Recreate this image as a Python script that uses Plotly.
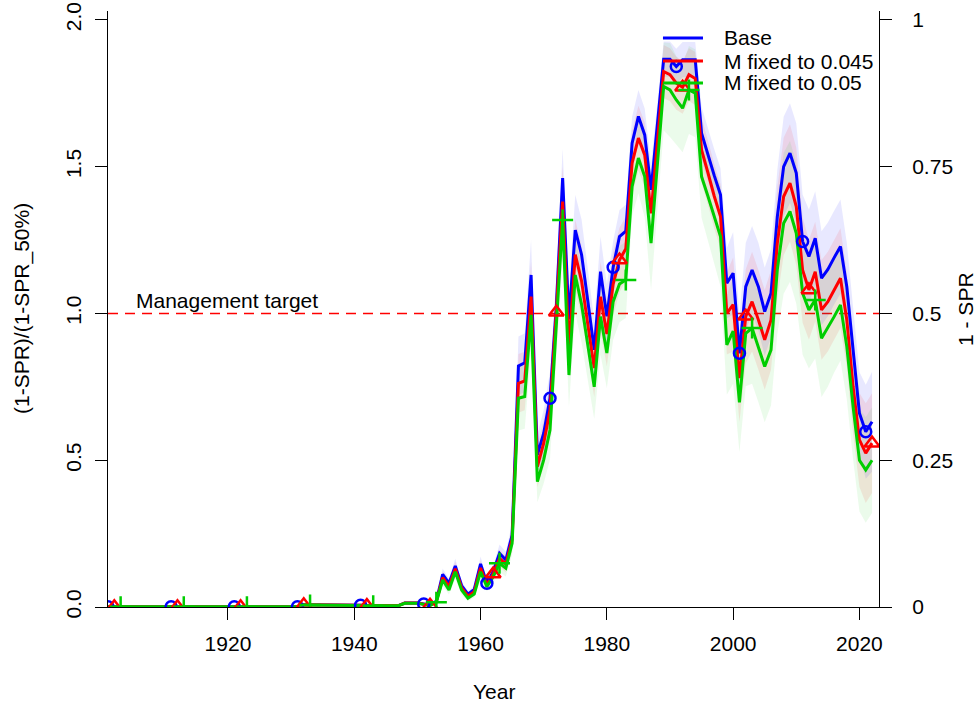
import plotly.graph_objects as go

# ---------------- data ----------------
years = list(range(1901, 2023))

pre_1953 = [0.001] * 31 + [0.008] * 7 + [0.006] * 3 + [0.005] * 6 + [0.014] * 3 + [0.010, 0.006]

base_1953 = [0.020, 0.111, 0.081, 0.140, 0.073, 0.044, 0.060, 0.147, 0.081, 0.120,
             0.183, 0.160, 0.245, 0.821, 0.832, 1.131, 0.518, 0.592, 0.711, 1.023,
             1.461, 0.980, 1.284, 1.200, 1.040, 0.876, 1.142, 0.990, 1.157, 1.262,
             1.280, 1.580, 1.671, 1.608, 1.421, 1.650, 1.866, 1.866, 1.841, 1.864,
             1.864, 1.864, 1.614, 1.540, 1.470, 1.404, 1.103, 1.137, 0.864, 1.091,
             1.148, 1.091, 1.006, 1.069, 1.330, 1.500, 1.546, 1.478, 1.245, 1.194,
             1.256, 1.120, 1.150, 1.190, 1.228, 1.091, 0.864, 0.660, 0.597, 0.631]

m045_1953 = [0.018, 0.100, 0.070, 0.130, 0.065, 0.037, 0.052, 0.133, 0.075, 0.112,
             0.166, 0.146, 0.230, 0.762, 0.770, 1.057, 0.478, 0.558, 0.671, 1.004,
             1.381, 0.880, 1.200, 1.110, 0.960, 0.814, 1.057, 0.930, 1.100, 1.182,
             1.220, 1.512, 1.597, 1.540, 1.341, 1.580, 1.824, 1.813, 1.784, 1.770,
             1.813, 1.800, 1.557, 1.480, 1.400, 1.330, 1.000, 1.030, 0.780, 0.990,
             1.040, 0.978, 0.910, 0.978, 1.240, 1.398, 1.444, 1.364, 1.148, 1.080,
             1.142, 1.012, 1.040, 1.080, 1.120, 0.978, 0.750, 0.569, 0.524, 0.558]

m05_1953 = [0.016, 0.092, 0.058, 0.120, 0.058, 0.030, 0.044, 0.120, 0.069, 0.103,
            0.149, 0.132, 0.217, 0.711, 0.717, 0.995, 0.427, 0.501, 0.603, 0.970,
            1.318, 0.790, 1.131, 1.030, 0.890, 0.750, 0.989, 0.865, 1.040, 1.100,
            1.114, 1.432, 1.529, 1.466, 1.239, 1.500, 1.773, 1.761, 1.727, 1.699,
            1.761, 1.750, 1.466, 1.400, 1.330, 1.262, 0.893, 0.940, 0.697, 0.932,
            0.950, 0.887, 0.819, 0.876, 1.150, 1.307, 1.347, 1.273, 1.069, 1.012,
            1.046, 0.915, 0.950, 0.989, 1.029, 0.887, 0.682, 0.500, 0.467, 0.500]

base = pre_1953 + base_1953
m045 = [round(v * 0.95, 4) for v in pre_1953] + m045_1953
m05 = [round(v * 0.9, 4) for v in pre_1953] + m05_1953

# half-widths of the uncertainty bands (ratio units)
hw_pre = [0.002] * 52
hw_base = hw_pre + [0.005, 0.020, 0.015, 0.025, 0.015, 0.010, 0.012, 0.025, 0.015, 0.020,
                    0.030, 0.028, 0.040, 0.100, 0.100, 0.120, 0.070, 0.080, 0.090, 0.100,
                    0.100, 0.100, 0.120, 0.120, 0.110, 0.100, 0.120, 0.110, 0.090, 0.090,
                    0.090, 0.090, 0.090, 0.090, 0.090, 0.080, 0.060, 0.060, 0.060, 0.060,
                    0.060, 0.060, 0.090, 0.090, 0.090, 0.090, 0.120, 0.140, 0.130, 0.150,
                    0.150, 0.150, 0.150, 0.150, 0.160, 0.170, 0.170, 0.170, 0.160, 0.160,
                    0.160, 0.160, 0.160, 0.160, 0.160, 0.150, 0.150, 0.140, 0.160, 0.170]
hw_045 = hw_pre + [0.005, 0.020, 0.015, 0.025, 0.015, 0.010, 0.012, 0.025, 0.015, 0.020,
                   0.030, 0.028, 0.040, 0.100, 0.100, 0.120, 0.070, 0.080, 0.090, 0.110,
                   0.120, 0.100, 0.120, 0.120, 0.110, 0.100, 0.120, 0.110, 0.110, 0.110,
                   0.110, 0.110, 0.110, 0.110, 0.120, 0.100, 0.090, 0.090, 0.090, 0.090,
                   0.090, 0.090, 0.110, 0.110, 0.110, 0.110, 0.140, 0.160, 0.150, 0.160,
                   0.170, 0.170, 0.170, 0.170, 0.190, 0.200, 0.200, 0.200, 0.180, 0.170,
                   0.170, 0.170, 0.170, 0.170, 0.170, 0.160, 0.160, 0.160, 0.170, 0.170]
hw_05 = hw_pre + [0.005, 0.020, 0.015, 0.025, 0.015, 0.010, 0.012, 0.025, 0.015, 0.020,
                  0.030, 0.028, 0.040, 0.110, 0.110, 0.130, 0.070, 0.080, 0.100, 0.120,
                  0.130, 0.110, 0.130, 0.130, 0.120, 0.110, 0.130, 0.120, 0.130, 0.130,
                  0.130, 0.100, 0.120, 0.140, 0.160, 0.150, 0.150, 0.160, 0.150, 0.150,
                  0.150, 0.150, 0.140, 0.150, 0.160, 0.170, 0.170, 0.180, 0.170, 0.180,
                  0.190, 0.190, 0.190, 0.190, 0.220, 0.240, 0.240, 0.240, 0.210, 0.200,
                  0.200, 0.200, 0.200, 0.190, 0.190, 0.180, 0.180, 0.175, 0.180, 0.180]

series_names = ["Base", "M fixed to 0.045", "M fixed to 0.05"]
target = 1.0
x_ticks = [1920, 1940, 1960, 1980, 2000, 2020]
y_ticks = [0.0, 0.5, 1.0, 1.5, 2.0]
y_ticklabels = ["0.0", "0.5", "1.0", "1.5", "2.0"]
y2_ticks = [0, 0.25, 0.5, 0.75, 1.0]
y2_ticklabels = ["0", "0.25", "0.5", "0.75", "1"]

# ---------------- styles ----------------
colors = ["#0000FF", "#FF0000", "#00CD00"]
band_colors = ["rgba(0,0,255,0.09)", "rgba(255,0,0,0.09)", "rgba(0,205,0,0.08)"]
symbols = ["circle-open", "triangle-up-open", "cross-thin-open"]
marker_sizes = [11, 13, 15]
marker_offsets = [0, 1, 2]
FONT = "Liberation Sans, Arial, Helvetica, sans-serif"
FS = 21

fig = go.Figure()
all_series = [base, m045, m05]
all_hw = [hw_base, hw_045, hw_05]

# bands
for s, hw, bc in zip(all_series, all_hw, band_colors):
    lo = [max(v - h, 0) for v, h in zip(s, hw)]
    hi = [v + h for v, h in zip(s, hw)]
    fig.add_trace(go.Scatter(x=years + years[::-1], y=hi + lo[::-1], fill="toself",
                             fillcolor=bc, line=dict(width=0), mode="lines",
                             showlegend=False, hoverinfo="skip"))
# lines
for s, c, name in zip(all_series, colors, series_names):
    fig.add_trace(go.Scatter(x=years, y=s, mode="lines", line=dict(color=c, width=3),
                             name=name, showlegend=False))
# markers every 10 years, offset per model
for s, c, sym, ms, off in zip(all_series, colors, symbols, marker_sizes, marker_offsets):
    idx = [i for i, yv in enumerate(years) if (yv - 1901 - off) % 10 == 0]
    fig.add_trace(go.Scatter(x=[years[i] for i in idx], y=[s[i] for i in idx], mode="markers",
                             marker=dict(symbol=sym, size=ms, color=c,
                                         line=dict(color=c, width=2.5)),
                             showlegend=False, hoverinfo="skip"))
# secondary axis (1 - SPR) carrying the base series invisibly
fig.add_trace(go.Scatter(x=years, y=[v / 2 for v in base], yaxis="y2", mode="lines",
                         line=dict(width=0), opacity=0, showlegend=False, hoverinfo="skip"))

# management target line
fig.add_shape(type="line", xref="paper", x0=0, x1=1, yref="y", y0=target, y1=target,
              line=dict(color="#FF0000", width=1.5, dash="10px,7px"), layer="below")

annotations = [
    dict(text="Management target", xref="paper", x=0.0337, yref="y", y=target,
         xanchor="left", yanchor="bottom", yshift=-1, showarrow=False,
         font=dict(family=FONT, size=FS, color="black")),
    dict(text="Year", xref="paper", x=0.5, yref="paper", y=-0.1426, xanchor="center",
         yanchor="middle", showarrow=False, font=dict(family=FONT, size=FS, color="black")),
    dict(text="(1-SPR)/(1-SPR_50%)", xref="paper", x=-0.1115, yref="paper", y=0.5,
         xanchor="center", yanchor="middle", textangle=-90, showarrow=False,
         font=dict(family=FONT, size=FS, color="black")),
    dict(text="1 - SPR", xref="paper", x=1.1115, yref="paper", y=0.5,
         xanchor="center", yanchor="middle", textangle=-90, showarrow=False,
         font=dict(family=FONT, size=FS, color="black")),
]

# manual legend
leg_y = [0.9547, 0.9161, 0.8792]
for name, c, ly in zip(series_names, colors, leg_y):
    fig.add_shape(type="line", xref="paper", yref="paper", x0=0.7198, x1=0.7717, y0=ly, y1=ly,
                  line=dict(color=c, width=3))
    annotations.append(dict(text=name, xref="paper", x=0.7964, yref="paper", y=ly,
                            xanchor="left", yanchor="middle", showarrow=False,
                            font=dict(family=FONT, size=FS, color="black")))

axis_common = dict(showgrid=False, zeroline=False, showline=True, linecolor="black",
                   linewidth=1, ticks="outside", ticklen=12, tickcolor="black", tickwidth=1,
                   automargin=False, ticklabeloverflow="allow",
                   tickfont=dict(family=FONT, size=FS, color="black"))

fig.update_layout(
    width=977, height=709,
    margin=dict(l=108, r=98, t=11, b=102, autoexpand=False),
    paper_bgcolor="white", plot_bgcolor="white",
    showlegend=False,
    xaxis=dict(range=[1901, 2023.1], tickvals=x_ticks, ticklabelstandoff=6, **axis_common),
    yaxis=dict(range=[0, 2.03], tickvals=y_ticks, ticktext=y_ticklabels, tickangle=-90,
               ticklabelstandoff=6, **axis_common),
    yaxis2=dict(range=[0, 1.015], tickvals=y2_ticks, ticktext=y2_ticklabels, overlaying="y",
                side="right", ticklabelstandoff=16, **axis_common),
    annotations=annotations,
)

# remove the default page margin so the 977x709 figure fills the window exactly
fig.write_html("out.html",
               config={"displayModeBar": False},
               post_script="document.body.style.margin='0px';document.body.style.overflow='hidden';")
